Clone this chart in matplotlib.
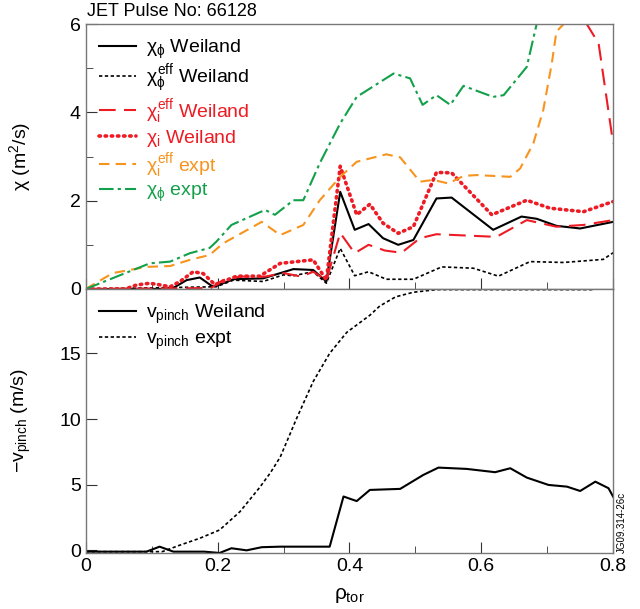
import matplotlib
matplotlib.use("Agg")
import matplotlib.pyplot as plt

plt.rcParams['font.family'] = ['Liberation Sans', 'DejaVu Sans']
plt.rcParams['mathtext.fontset'] = 'custom'
plt.rcParams['mathtext.rm'] = 'Liberation Sans'
plt.rcParams['mathtext.it'] = 'Liberation Sans'
plt.rcParams['mathtext.bf'] = 'Liberation Sans:bold'

GREEN = '#12a04a'
ORANGE = '#f7941d'
RED = '#ed1c24'

# top panel: chi profiles
chi_phi_w_x = [0, 0.13, 0.138, 0.153, 0.173, 0.191, 0.198, 0.224, 0.269, 0.315, 0.345, 0.365, 0.386, 0.408,
               0.429, 0.451, 0.474, 0.497, 0.532, 0.555, 0.618, 0.661, 0.684, 0.714, 0.75, 0.8]
chi_phi_w_y = [0, 0, 0.07, 0.2, 0.26, 0.07, 0.07, 0.22, 0.24, 0.45, 0.43, 0.17, 2.2, 1.34,
               1.47, 1.15, 1.0, 1.11, 2.05, 2.07, 1.34, 1.64, 1.59, 1.43, 1.37, 1.52]

chi_phi_eff_w_x = [0, 0.198, 0.224, 0.269, 0.3, 0.315, 0.345, 0.365, 0.386, 0.408, 0.429, 0.456, 0.497,
                   0.540, 0.588, 0.626, 0.674, 0.725, 0.785, 0.8]
chi_phi_eff_w_y = [0, 0.05, 0.2, 0.17, 0.32, 0.3, 0.39, 0.13, 0.92, 0.3, 0.39, 0.22, 0.22,
                   0.5, 0.47, 0.29, 0.62, 0.6, 0.67, 0.82]

chi_i_eff_w_x = [0, 0.19, 0.208, 0.234, 0.272, 0.3, 0.327, 0.345, 0.365, 0.386, 0.408, 0.429, 0.454,
                 0.479, 0.507, 0.532, 0.623, 0.669, 0.714, 0.755, 0.8]
chi_i_eff_w_y = [0, 0.02, 0.2, 0.28, 0.28, 0.36, 0.28, 0.39, 0.2, 1.27, 0.81, 1.0, 0.87,
                 0.82, 1.15, 1.24, 1.18, 1.56, 1.41, 1.45, 1.56]
# second red dashed branch coming down from the top at the right edge
chi_i_eff_w2_x = [0.745, 0.76, 0.778, 0.8]
chi_i_eff_w2_y = [6.6, 6.0, 5.56, 3.3]

chi_i_w_x = [0, 0.06, 0.077, 0.097, 0.11, 0.128, 0.143, 0.163, 0.178, 0.196, 0.229, 0.264, 0.295, 0.345,
             0.365, 0.386, 0.411, 0.431, 0.451, 0.474, 0.497, 0.532, 0.555, 0.616, 0.669, 0.704, 0.755, 0.8]
chi_i_w_y = [0, 0, 0.09, 0.13, 0.1, 0.05, 0.17, 0.39, 0.35, 0.1, 0.29, 0.29, 0.58, 0.66,
             0.2, 2.78, 1.68, 1.92, 1.49, 1.26, 1.41, 2.64, 2.63, 1.68, 2.01, 1.83, 1.75, 1.98]

chi_i_eff_e_x = [0, 0.041, 0.092, 0.128, 0.158, 0.188, 0.208, 0.267, 0.295, 0.330, 0.355, 0.386, 0.411, 0.456,
                 0.477, 0.507, 0.527, 0.550, 0.573, 0.593, 0.644, 0.659, 0.679, 0.694, 0.707, 0.714, 0.725, 0.75]
chi_i_eff_e_y = [0, 0.36, 0.5, 0.52, 0.66, 0.77, 1.03, 1.52, 1.22, 1.45, 2.01, 2.54, 2.88, 3.05,
                 2.98, 2.43, 2.47, 2.39, 2.56, 2.58, 2.54, 2.73, 3.3, 4.05, 5.11, 5.83, 6.0, 6.6]

chi_phi_e_x = [0, 0.097, 0.128, 0.158, 0.188, 0.198, 0.221, 0.272, 0.287, 0.315, 0.330, 0.355, 0.386, 0.411,
               0.467, 0.492, 0.511, 0.532, 0.553, 0.573, 0.618, 0.634, 0.669, 0.684, 0.70]
chi_phi_e_y = [0, 0.58, 0.62, 0.81, 0.93, 1.07, 1.45, 1.79, 1.68, 2.01, 2.01, 2.85, 3.75, 4.35,
               4.88, 4.77, 4.17, 4.39, 4.17, 4.6, 4.35, 4.39, 5.03, 6.0, 7.0]

# bottom panel: pinch velocity
vp_w_x = [0, 0.092, 0.112, 0.133, 0.18, 0.203, 0.221, 0.244, 0.267, 0.295, 0.37, 0.391, 0.411, 0.431,
          0.477, 0.512, 0.535, 0.578, 0.621, 0.644, 0.669, 0.702, 0.730, 0.75, 0.773, 0.793, 0.8]
vp_w_y = [-0.1, -0.1, 0.28, -0.1, -0.1, -0.2, 0.16, 0.0, 0.24, 0.28, 0.28, 4.1, 3.75, 4.6,
          4.68, 5.74, 6.3, 6.2, 5.95, 6.25, 5.54, 4.98, 4.85, 4.52, 5.23, 4.73, 4.09]

vp_e_x = [0, 0.116, 0.143, 0.173, 0.203, 0.234, 0.264, 0.28, 0.295, 0.32, 0.345, 0.37, 0.396, 0.431, 0.446,
          0.47, 0.497, 0.532, 0.77]
vp_e_y = [-0.1, -0.1, 0.4, 0.92, 1.55, 2.95, 4.8, 5.9, 7.1, 10.06, 12.85, 15.0, 16.6, 17.9, 18.6,
          19.3, 19.65, 19.85, 19.85]

fig = plt.figure(figsize=(6.4, 6.09), dpi=100)
ax1 = fig.add_axes([0.134, 0.5255, 0.824, 0.435])
ax2 = fig.add_axes([0.134, 0.092, 0.824, 0.4335])

ax1.plot(chi_phi_w_x, chi_phi_w_y, color='black', lw=1.5, label=r'$\chi_\phi$ Weiland')
ax1.plot(chi_phi_eff_w_x, chi_phi_eff_w_y, color='black', lw=1.2, dashes=(2, 1.5),
         label=r'$\chi_\phi^{eff}$ Weiland')
ax1.plot(chi_i_eff_w_x, chi_i_eff_w_y, color=RED, lw=1.5, dashes=(8, 4), label=r'$\chi_i^{eff}$ Weiland')
ax1.plot(chi_i_eff_w2_x, chi_i_eff_w2_y, color=RED, lw=1.5, dashes=(8, 4))
ax1.plot(chi_i_w_x, chi_i_w_y, color=RED, lw=2.6, dashes=(0.4, 1.3), dash_capstyle='round',
         label=r'$\chi_i$ Weiland')
ax1.plot(chi_i_eff_e_x, chi_i_eff_e_y, color=ORANGE, lw=1.5, dashes=(5, 3), label=r'$\chi_i^{eff}$ expt')
ax1.plot(chi_phi_e_x, chi_phi_e_y, color=GREEN, lw=1.5, dashes=(7, 2, 1.5, 2), label=r'$\chi_\phi$ expt')

ax2.plot(vp_w_x, vp_w_y, color='black', lw=1.5, label=r'$v_{pinch}$ Weiland')
ax2.plot(vp_e_x, vp_e_y, color='black', lw=1.2, dashes=(2, 1.5), label=r'$v_{pinch}$ expt')

ax1.set_xlim(0, 0.8)
ax1.set_ylim(0, 6)
ax2.set_xlim(0, 0.8)
ax2.set_ylim(-0.2, 19.9)

ax1.set_yticks([0, 2, 4, 6])
ax1.set_yticks([1, 3, 5], minor=True)
ax2.set_yticks([0, 5, 10, 15])
for ax in (ax1, ax2):
    ax.set_xticks([0, 0.2, 0.4, 0.6, 0.8])
    ax.set_xticks([0.1, 0.3, 0.5, 0.7], minor=True)
    ax.tick_params(which='both', direction='in', labelsize=14, color='#333333')
    ax.tick_params(which='major', length=8)
    ax.tick_params(which='minor', length=5)
    for s in ax.spines.values():
        s.set_color('#777777')
        s.set_linewidth(1.0)
ax1.tick_params(axis='x', labelbottom=False)
ax2.set_xticklabels(['0', '0.2', '0.4', '0.6', '0.8'])

ax1.set_ylabel(r'$\chi$ (m$^2$/s)', fontsize=14)
ax2.set_ylabel(r'$-v_{pinch}$ (m/s)', fontsize=14)
ax1.yaxis.set_label_coords(-0.1, 0.5)
ax2.yaxis.set_label_coords(-0.1, 0.5)
ax2.set_xlabel(r'$\rho_{tor}$', fontsize=15, labelpad=8)

leg1 = ax1.legend(loc='upper left', frameon=False, fontsize=14, handlelength=1.9,
                  labelspacing=0.1, borderaxespad=0.3, handletextpad=0.5)
for txt, line in zip(leg1.get_texts(), leg1.get_lines()):
    txt.set_color(line.get_color())
leg2 = ax2.legend(loc='upper left', frameon=False, fontsize=14, handlelength=1.9,
                  labelspacing=0.2, borderaxespad=0.3, handletextpad=0.5)

fig.text(0.136, 0.967, 'JET Pulse No: 66128', fontsize=13, ha='left', va='bottom')
fig.text(0.972, 0.092, 'JG09.314-26c', fontsize=7, rotation=90, ha='center', va='bottom')

fig.savefig('out.png', dpi=100)
